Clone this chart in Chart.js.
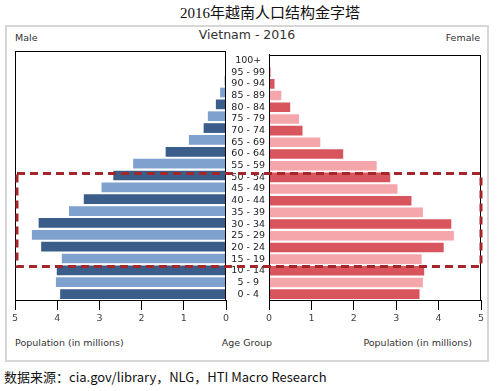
<!DOCTYPE html>
<html>
<head>
<meta charset="utf-8">
<script src="https://cdn.jsdelivr.net/npm/chart.js@4.4.1/dist/chart.umd.min.js"></script>
<style>
  body { margin: 0; background: #fff; }
  #wrap { position: relative; width: 500px; height: 391px; overflow: hidden; font-family: "DejaVu Sans", sans-serif; }
  .t { position: absolute; white-space: nowrap; line-height: 1; }
  #frame { position: absolute; left: 5px; top: 25px; width: 480px; height: 333px; border: 2px solid #d6d6d6; }
  canvas { position: absolute; }
</style>
</head>
<body>
<div id="wrap">
  <div class="t" style="left:0;width:540px;text-align:center;top:6px;font-size:15px;font-family:'Liberation Serif','Noto Sans CJK SC',serif;color:#111;">2016年越南人口结构金字塔</div>
  <div id="frame"></div>
  <div class="t" style="left:15px;top:33px;font-size:9.5px;color:#333;">Male</div>
  <div class="t" style="left:147px;width:200px;text-align:center;top:29px;font-size:12.5px;color:#333;">Vietnam - 2016</div>
  <div class="t" style="right:20px;top:33px;font-size:9.5px;color:#333;">Female</div>
  <div class="t" style="left:15px;top:338px;font-size:9.5px;color:#333;">Population (in millions)</div>
  <div class="t" style="left:147px;width:200px;text-align:center;top:338px;font-size:9.5px;color:#333;">Age Group</div>
  <div class="t" style="right:28px;top:338px;font-size:9.5px;color:#333;">Population (in millions)</div>
  <div class="t" style="left:4px;top:370px;font-size:13px;font-family:'Noto Sans CJK SC',sans-serif;color:#111;">数据来源：cia.gov/library，NLG，HTI Macro Research</div>

  <canvas id="maleChart" width="225" height="300" style="left:10px;top:45px;"></canvas>
  <canvas id="femaleChart" width="270" height="300" style="left:220px;top:45px;"></canvas>
  <canvas id="overlay" width="500" height="391" style="left:0;top:0;pointer-events:none;"></canvas>
</div>

<script>
// age groups, top to bottom
var ageGroups = ['100+', '95 - 99', '90 - 94', '85 - 89', '80 - 84', '75 - 79', '70 - 74',
                 '65 - 69', '60 - 64', '55 - 59', '50 - 54', '45 - 49', '40 - 44', '35 - 39',
                 '30 - 34', '25 - 29', '20 - 24', '15 - 19', '10 - 14', '5 - 9', '0 - 4'];

// population in millions
var male   = [0.002, 0.01, 0.03, 0.14, 0.24, 0.43, 0.53, 0.88, 1.43, 2.20, 2.67,
              2.95, 3.37, 3.72, 4.44, 4.60, 4.38, 3.89, 4.01, 4.03, 3.93];
var female = [0.005, 0.05, 0.13, 0.29, 0.50, 0.71, 0.79, 1.21, 1.75, 2.54, 2.86,
              3.03, 3.36, 3.63, 4.30, 4.36, 4.12, 3.60, 3.66, 3.63, 3.55];

var xTicks = [0, 1, 2, 3, 4, 5];

// alternating bar shades
function shades(dark, light) {
    return ageGroups.map(function (g, i) { return i % 2 === 0 ? dark : light; });
}

// black box round the plot area
var boxPlugin = {
    id: 'box',
    afterDraw: function (chart) {
        var a = chart.chartArea, ctx = chart.ctx;
        ctx.save();
        ctx.strokeStyle = '#000';
        ctx.lineWidth = 1;
        ctx.strokeRect(Math.round(a.left) + 0.5, Math.round(a.top) + 0.5,
                       Math.round(a.right - a.left) - 1, Math.round(a.bottom - a.top));
        ctx.restore();
    }
};

function xScale(reverse) {
    return {
        reverse: reverse,
        min: 0,
        max: 5,
        afterBuildTicks: function (s) { s.ticks = xTicks.map(function (v) { return { value: v }; }); },
        ticks: { color: '#444', font: { family: 'DejaVu Sans', size: 9.5 }, padding: 3 },
        grid: { drawOnChartArea: false, tickLength: 10, color: '#000' },
        border: { color: '#000' },
        afterFit: function (s) { s.height = 30; }
    };
}

Chart.defaults.font.family = 'DejaVu Sans';

var maleChart = new Chart(document.getElementById('maleChart'), {
    type: 'bar',
    data: {
        labels: ageGroups,
        datasets: [{
            label: 'Male',
            data: male,
            backgroundColor: shades('#3b5d89', '#7fa1cd'),
            barPercentage: 0.82,
            categoryPercentage: 1
        }]
    },
    options: {
        indexAxis: 'y',
        animation: false,
        responsive: false,
        devicePixelRatio: 1,
        layout: { padding: { left: 5, right: 9, top: 6, bottom: 15 } },
        plugins: { legend: { display: false }, tooltip: { enabled: false } },
        scales: {
            x: xScale(true),
            y: { display: false }
        }
    },
    plugins: [boxPlugin]
});

var femaleChart = new Chart(document.getElementById('femaleChart'), {
    type: 'bar',
    data: {
        labels: ageGroups,
        datasets: [{
            label: 'Female',
            data: female,
            backgroundColor: shades('#d8555d', '#f5a6ab'),
            barPercentage: 0.82,
            categoryPercentage: 1
        }]
    },
    options: {
        indexAxis: 'y',
        animation: false,
        responsive: false,
        devicePixelRatio: 1,
        layout: { padding: { left: 6, right: 9, top: 6, bottom: 15 } },
        plugins: { legend: { display: false }, tooltip: { enabled: false } },
        scales: {
            x: xScale(false),
            y: {
                position: 'left',
                ticks: { crossAlign: 'center', color: '#222', font: { size: 9.5 }, padding: 4, autoSkip: false },
                grid: { drawOnChartArea: false, drawTicks: false },
                border: { color: '#000' },
                afterFit: function (s) { s.width = 43; }
            }
        }
    },
    plugins: [boxPlugin]
});

// dashed highlight box over ages 15 - 54
(function () {
    var ys = femaleChart.scales.y;
    var top = 45 + (ys.getPixelForValue(9) + ys.getPixelForValue(10)) / 2 + 2;
    var bottom = 45 + (ys.getPixelForValue(17) + ys.getPixelForValue(18)) / 2 + 1.5;
    var left = 10 + maleChart.chartArea.left + 2;
    var right = 220 + femaleChart.chartArea.right;

    var ctx = document.getElementById('overlay').getContext('2d');
    ctx.strokeStyle = '#a3262b';
    ctx.lineWidth = 3;
    ctx.setLineDash([8, 5]);
    ctx.strokeRect(left, top, right - left, bottom - top);
})();
</script>
</body>
</html>
